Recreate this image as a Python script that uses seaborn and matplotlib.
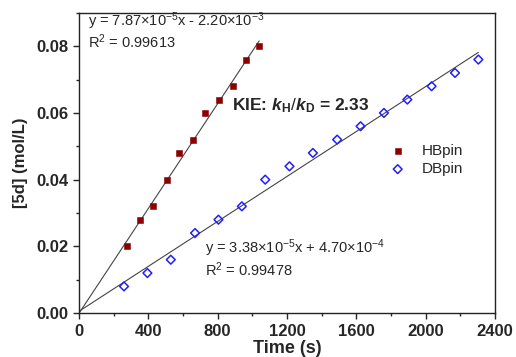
import numpy as np
import pandas as pd
import matplotlib
matplotlib.use('Agg')
import matplotlib.pyplot as plt
import seaborn as sns
from matplotlib.ticker import MultipleLocator

# data
hb_time = [280, 350, 430, 510, 580, 660, 730, 810, 890, 965, 1040]
hb_conc = [0.020, 0.028, 0.032, 0.040, 0.048, 0.052, 0.060, 0.064, 0.068, 0.076, 0.080]
db_time = [260, 395, 530, 670, 805, 940, 1075, 1215, 1350, 1490, 1625, 1760, 1895, 2035, 2170, 2305]
db_conc = [0.008, 0.012, 0.016, 0.024, 0.028, 0.032, 0.040, 0.044, 0.048, 0.052, 0.056, 0.060,
           0.064, 0.068, 0.072, 0.076]
hb_eq = [r"y = 7.87$\times$10$^{-5}$x - 2.20$\times$10$^{-3}$", r"R$^2$ = 0.99613"]
db_eq = [r"y = 3.38$\times$10$^{-5}$x + 4.70$\times$10$^{-4}$", r"R$^2$ = 0.99478"]

sns.set_style("ticks")
plt.rcParams['font.family'] = ['Liberation Sans', 'DejaVu Sans']
plt.rcParams['mathtext.fontset'] = 'custom'
plt.rcParams['mathtext.rm'] = 'Liberation Sans'
plt.rcParams['mathtext.it'] = 'Liberation Sans:italic'
plt.rcParams['mathtext.bf'] = 'Liberation Sans:bold'
plt.rcParams['mathtext.bfit'] = 'Liberation Sans:italic:bold'

hb = pd.DataFrame({'t': [0] + hb_time, 'c': [0] + hb_conc})
db = pd.DataFrame({'t': [0] + db_time, 'c': [0] + db_conc})

fig = plt.figure(figsize=(5.16, 3.57), dpi=100)
ax = fig.add_axes([0.153, 0.123, 0.806, 0.841])

sns.regplot(data=hb, x='t', y='c', scatter=False, ci=None, truncate=True,
            line_kws={'color': '#444444', 'lw': 0.8}, ax=ax)
sns.regplot(data=db, x='t', y='c', scatter=False, ci=None, truncate=True,
            line_kws={'color': '#444444', 'lw': 0.8}, ax=ax)
sns.scatterplot(x=hb_time, y=hb_conc, marker='s', s=22, color='#8b0000', edgecolor='#8b0000',
                linewidth=0.4, label='HBpin', ax=ax, zorder=3)
sns.scatterplot(x=db_time, y=db_conc, marker='D', s=20, facecolor='none', edgecolor='#1f1fff',
                linewidth=1.1, label='DBpin', ax=ax, zorder=3)

ax.set_xlim(0, 2400)
ax.set_ylim(0, 0.09)
ax.xaxis.set_major_locator(MultipleLocator(400))
ax.xaxis.set_minor_locator(MultipleLocator(200))
ax.set_yticks([0, 0.02, 0.04, 0.06, 0.08])
ax.set_yticklabels(['0.00', '0.02', '0.04', '0.06', '0.08'])
ax.yaxis.set_minor_locator(MultipleLocator(0.01))
ax.tick_params(which='major', length=4, width=1, labelsize=12)
ax.tick_params(which='minor', length=2.5, width=1)
for lab in ax.get_xticklabels() + ax.get_yticklabels():
    lab.set_fontweight('bold')
for sp in ax.spines.values():
    sp.set_linewidth(1.0)
    sp.set_color('#222222')

ax.set_xlabel('Time (s)', fontsize=13, weight='bold', labelpad=1)
ax.set_ylabel('[5d] (mol/L)', fontsize=12, weight='bold', labelpad=6)

ax.text(0.022, 0.972, hb_eq[0], transform=ax.transAxes, fontsize=10.5, va='center')
ax.text(0.022, 0.905, hb_eq[1], transform=ax.transAxes, fontsize=10.5, va='center')
ax.text(0.303, 0.215, db_eq[0], transform=ax.transAxes, fontsize=10.5, va='center')
ax.text(0.303, 0.143, db_eq[1], transform=ax.transAxes, fontsize=10.5, va='center')
ax.text(0.368, 0.69, r"KIE: $\mathbfit{k}_{\mathbf{H}}/\mathbfit{k}_{\mathbf{D}}$ = 2.33",
        transform=ax.transAxes, fontsize=12.5, weight='bold', va='center')

ax.legend(loc='upper left', bbox_to_anchor=(0.715, 0.585), frameon=False, fontsize=11,
          handletextpad=0.6, labelspacing=0.3, borderaxespad=0)

fig.savefig('out.png', dpi=100)
